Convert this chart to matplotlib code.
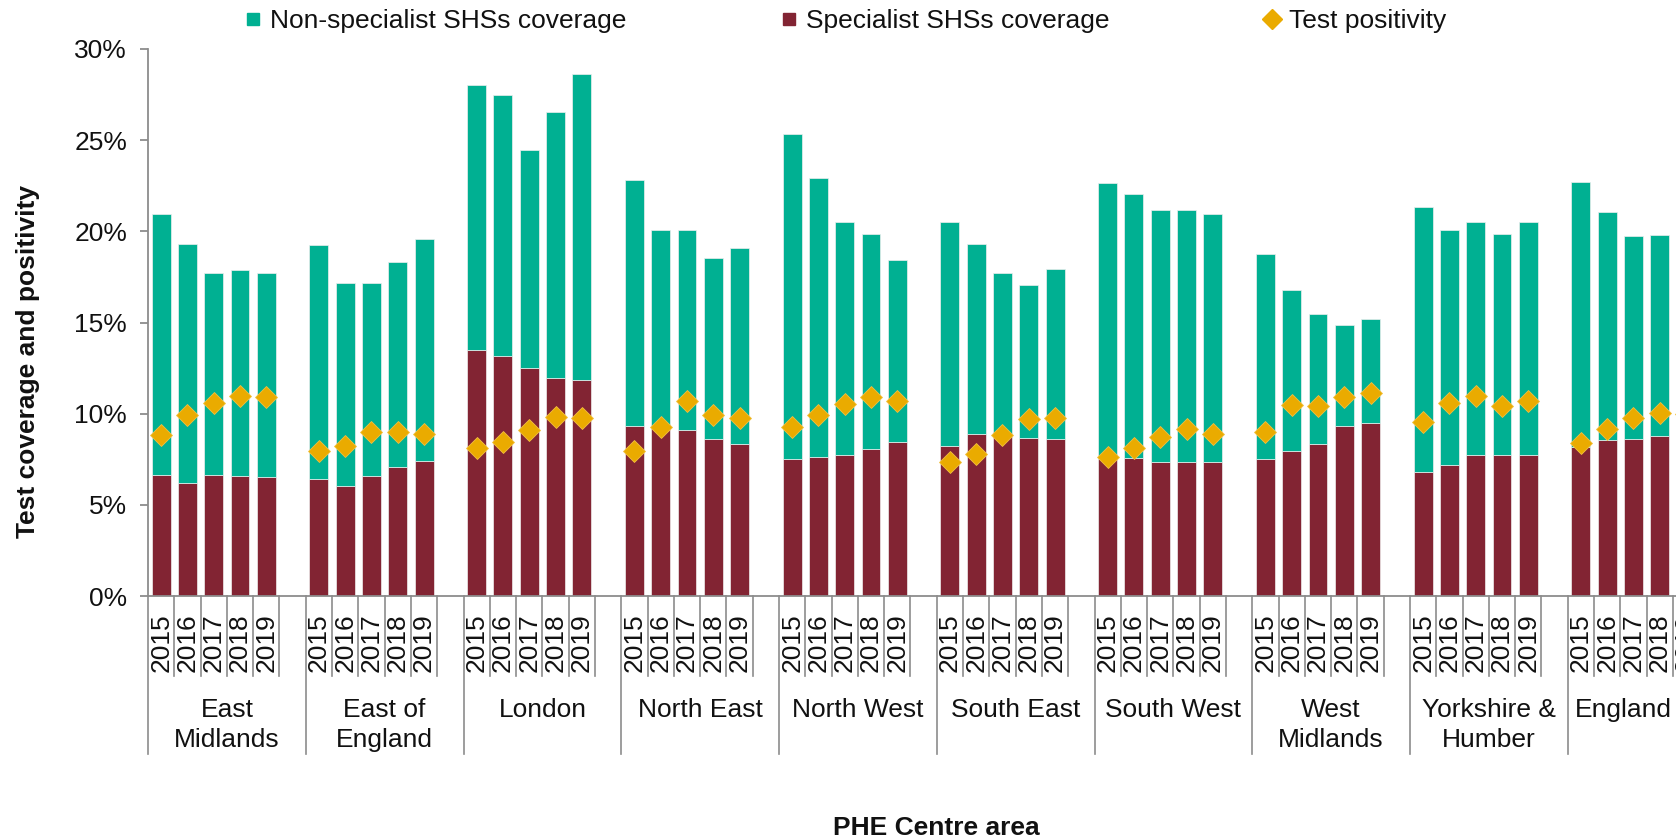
import matplotlib
matplotlib.use("Agg")
import matplotlib.pyplot as plt
import numpy as np
from matplotlib.lines import Line2D
from matplotlib.transforms import blended_transform_factory
from matplotlib.ticker import FuncFormatter

plt.rcParams['font.family'] = ['Liberation Sans', 'DejaVu Sans']

# ---------------- data ----------------
regions = ["East\nMidlands", "East of\nEngland", "London", "North East", "North West",
           "South East", "South West", "West\nMidlands", "Yorkshire &\nHumber", "England"]
years = ["2015", "2016", "2017", "2018", "2019"]

specialist = [
    6.65, 6.22, 6.65, 6.56, 6.50,      # East Midlands
    6.43, 6.06, 6.56, 7.10, 7.43,      # East of England
    13.51, 13.17, 12.52, 11.93, 11.87, # London
    9.34, 9.20, 9.12, 8.62, 8.34,      # North East
    7.49, 7.62, 7.71, 8.06, 8.43,      # North West
    8.21, 8.90, 8.75, 8.69, 8.62,      # South East
    7.49, 7.58, 7.36, 7.36, 7.36,      # South West
    7.49, 7.97, 8.34, 9.34, 9.49,      # West Midlands
    6.78, 7.21, 7.71, 7.71, 7.75,      # Yorkshire & Humber
    8.19, 8.56, 8.62, 8.75, 8.75,      # England
]
non_specialist = [
    14.29, 13.08, 11.05, 11.33, 11.20,
    12.80, 11.12, 10.62, 11.22, 12.17,
    14.54, 14.29, 11.95, 14.60, 16.78,
    13.45, 10.90, 10.98, 9.92, 10.76,
    17.83, 15.30, 12.80, 11.80, 10.02,
    12.30, 10.40, 8.95, 8.36, 9.34,
    15.16, 14.49, 13.80, 13.80, 13.58,
    11.25, 8.79, 7.15, 5.50, 5.71,
    14.58, 12.89, 12.80, 12.15, 12.76,
    14.51, 12.51, 11.11, 11.05, 11.54,
]
positivity = [
    8.84, 9.90, 10.61, 10.98, 10.89,
    7.93, 8.25, 8.99, 8.99, 8.90,
    8.12, 8.47, 9.12, 9.83, 9.77,
    7.93, 9.27, 10.68, 9.92, 9.77,
    9.27, 9.92, 10.55, 10.94, 10.68,
    7.36, 7.78, 8.84, 9.70, 9.77,
    7.65, 8.14, 8.73, 9.16, 8.86,
    8.99, 10.48, 10.40, 10.89, 11.11,
    9.55, 10.57, 10.98, 10.40, 10.68,
    8.40, 9.16, 9.77, 10.05, 9.98,
]

TEAL = "#00B092"
MAROON = "#822433"
GOLD = "#EAAB00"
GREY = "#8C8C8C"
TXT = "#111111"

# ---------------- figure ----------------
W, H = 1676, 840
fig = plt.figure(figsize=(W / 100, H / 100), dpi=100)
ax_left, ax_right = 148 / W, 1725.5 / W
ax_bottom, ax_top = (H - 596) / H, (H - 49) / H
ax = fig.add_axes([ax_left, ax_bottom, ax_right - ax_left, ax_top - ax_bottom])
ax_h_px = (ax_top - ax_bottom) * H

slots_per_group = len(years) + 1
x = np.array([g * slots_per_group + k for g in range(len(regions)) for k in range(len(years))])

spec = np.array(specialist)
nons = np.array(non_specialist)
ax.bar(x, spec, width=0.72, color=MAROON, edgecolor="#eeeeee", linewidth=0.5, zorder=2)
ax.bar(x, nons, bottom=spec, width=0.72, color=TEAL, edgecolor="#eeeeee", linewidth=0.5, zorder=2)
ax.plot(x, positivity, linestyle="none", marker="D", markersize=11, color=GOLD,
        markeredgecolor="#F2C040", markeredgewidth=0.6, zorder=3)

ax.set_xlim(-0.5, len(regions) * slots_per_group - 0.5)
ax.set_ylim(0, 30)
ax.set_yticks(np.arange(0, 31, 5))
ax.yaxis.set_major_formatter(FuncFormatter(lambda v, p: f"{v:.0f}%"))
ax.set_xticks([])
for s in ["top", "right"]:
    ax.spines[s].set_visible(False)
for s in ["left", "bottom"]:
    ax.spines[s].set_color(GREY)
    ax.spines[s].set_linewidth(1.3)
ax.tick_params(axis="y", direction="out", length=6, width=1.3, color=GREY,
               labelsize=19, pad=9, labelcolor=TXT)

# multi-level category axis
trans = blended_transform_factory(ax.transData, ax.transAxes)
def yf(px):
    return -px / ax_h_px

n_slots = len(regions) * slots_per_group
for b in range(n_slots + 1):
    xb = b - 0.5
    depth = 158 if b % slots_per_group == 0 else 80
    ax.plot([xb, xb], [0, yf(depth)], transform=trans, color=GREY, lw=1.2,
            clip_on=False, zorder=1)

for xi, k in zip(x, [k for g in range(len(regions)) for k in range(len(years))]):
    ax.text(xi, yf(47), years[k], transform=trans, rotation=90, ha="center",
            va="center", fontsize=19, color=TXT, clip_on=False)

for g, name in enumerate(regions):
    # the last group is cut by the figure edge; centre its label on the visible part
    cx = g * slots_per_group + (2.5 if g < len(regions) - 1 else 1.6)
    ax.text(cx, yf(102), name, transform=trans, ha="center",
            va="top", fontsize=19, color=TXT, linespacing=1.3, clip_on=False)

ax.text(0.5, yf(232), "PHE Centre area", transform=ax.transAxes, ha="center",
        va="center", fontsize=19, fontweight="bold", color=TXT)

fig.text(28 / W, 1 - 362 / H, "Test coverage and positivity", rotation=90,
         ha="center", va="center", fontsize=19, fontweight="bold", color=TXT)

handles = [
    Line2D([], [], linestyle="none", marker="s", markersize=8, color=TEAL),
    Line2D([], [], linestyle="none", marker="s", markersize=8, color=MAROON),
    Line2D([], [], linestyle="none", marker="D", markersize=10, color=GOLD),
]
labels = ["Non-specialist SHSs coverage", "Specialist SHSs coverage", "Test positivity"]
fig.legend(handles, labels, loc="center", bbox_to_anchor=(845 / W, 1 - 21 / H), ncol=3,
           frameon=False, fontsize=19, handlelength=0.7, handletextpad=0.3,
           columnspacing=5.8, borderaxespad=0, labelcolor=TXT)

fig.savefig("out.png", dpi=100)
